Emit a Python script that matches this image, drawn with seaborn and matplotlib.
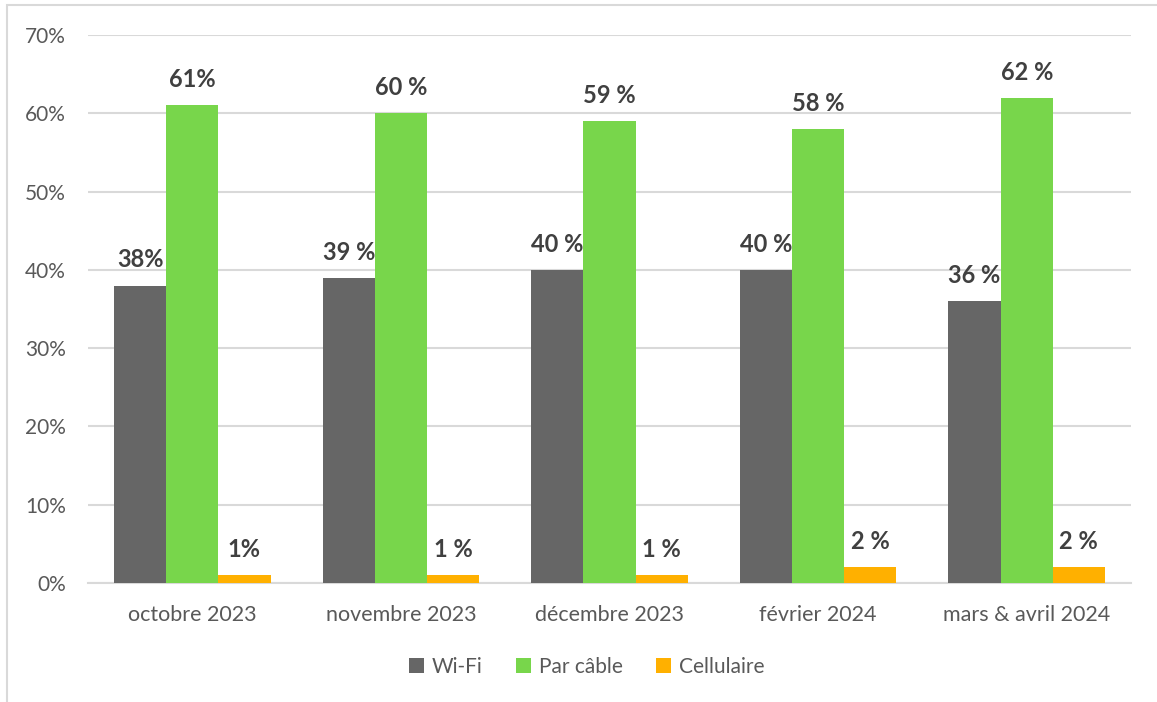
import pandas as pd
import seaborn as sns
import matplotlib.pyplot as plt
from matplotlib.patches import Rectangle, Patch

# data
periods = ['octobre 2023', 'novembre 2023', 'décembre 2023', 'février 2024', 'mars & avril 2024']
wifi = [0.38, 0.39, 0.40, 0.40, 0.36]
cable = [0.61, 0.60, 0.59, 0.58, 0.62]
cellular = [0.01, 0.01, 0.01, 0.02, 0.02]
wifi_labels = ['38%', '39 %', '40 %', '40 %', '36 %']
cable_labels = ['61%', '60 %', '59 %', '58 %', '62 %']
cellular_labels = ['1%', '1 %', '1 %', '2 %', '2 %']
series = ['Wi-Fi', 'Par câble', 'Cellulaire']
colors = ['#666666', '#78D64B', '#FFB000']

df = pd.DataFrame({
    'period': periods * 3,
    'type': [s for s in series for _ in periods],
    'share': wifi + cable + cellular,
})

sns.set_style('white')
plt.rcParams['font.family'] = ['Lato', 'DejaVu Sans']

fig = plt.figure(figsize=(11.57, 7.02), dpi=100)
ax = fig.add_axes([88 / 1157, 1 - 583 / 702, (1131 - 88) / 1157, (583 - 35) / 702])

sns.barplot(data=df, x='period', y='share', hue='type', hue_order=series,
            palette=colors, width=0.75, gap=0, saturation=1, ax=ax,
            legend=False, linewidth=0, zorder=3)

ax.set_ylim(0, 0.70)
ax.set_yticks([i / 10 for i in range(8)])
ax.set_yticklabels([f'{i * 10}%' for i in range(8)], fontsize=15, color='#595959')
ax.tick_params(axis='x', labelsize=15.5, labelcolor='#595959', length=0, pad=16)
ax.tick_params(axis='y', length=0, pad=16)
ax.set_xlabel('')
ax.set_ylabel('')
ax.grid(axis='y', color='#D9D9D9', linewidth=1.5, zorder=0)
for side in ['top', 'right', 'left']:
    ax.spines[side].set_visible(False)
ax.spines['bottom'].set_color('#D9D9D9')
ax.spines['bottom'].set_linewidth(1.5)

all_labels = [wifi_labels, cable_labels, cellular_labels]
for container, labels in zip(ax.containers, all_labels):
    for bar, lab in zip(container, labels):
        ax.annotate(lab, (bar.get_x() + bar.get_width() / 2, bar.get_height()),
                    xytext=(0, 13), textcoords='offset points',
                    ha='center', va='baseline', fontsize=17,
                    fontweight='bold', color='#404040')

handles = [Patch(facecolor=c, edgecolor='none') for c in colors]
fig.legend(handles, series, loc='center', bbox_to_anchor=(587 / 1157, 1 - 667 / 702),
           ncol=3, frameon=False, fontsize=15, labelcolor='#595959',
           handlelength=0.7, handleheight=0.7, handletextpad=0.4, columnspacing=1.6)

# light frame of the chart area
fig.patches.append(Rectangle((7 / 1157, -0.05), 1.1, 1 - 5 / 702 + 0.05,
                             transform=fig.transFigure, fill=False,
                             edgecolor='#D9D9D9', linewidth=1.5))

fig.savefig('out.png', dpi=100, facecolor='white')
